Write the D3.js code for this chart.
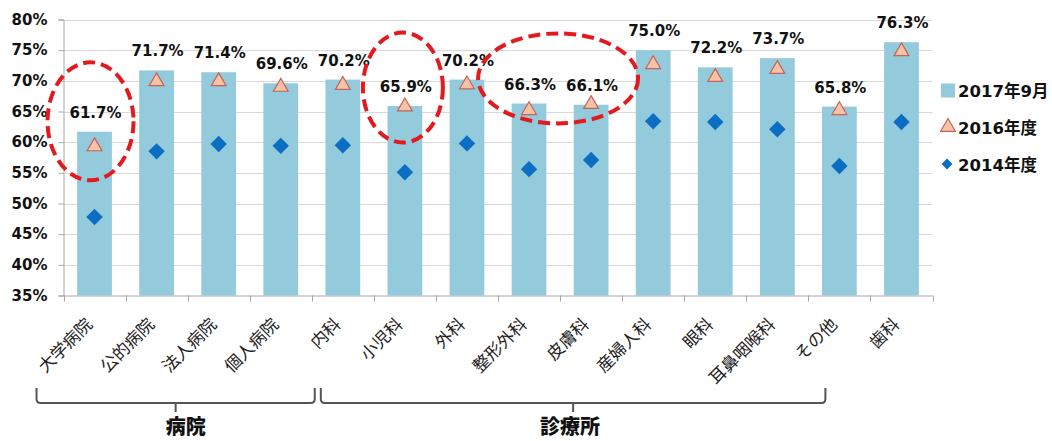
<!DOCTYPE html>
<html>
<head>
<meta charset="utf-8">
<script src="https://cdn.jsdelivr.net/npm/d3@7"></script>
<style>
  html, body { margin: 0; padding: 0; background: #fff; }
  svg { display: block; }
</style>
</head>
<body>
<svg id="chart" width="1052" height="441"></svg>
<script>
// 常勤医師の割合（カテゴリ別）
const categories = ["大学病院", "公的病院", "法人病院", "個人病院", "内科", "小児科", "外科",
  "整形外科", "皮膚科", "産婦人科", "眼科", "耳鼻咽喉科", "その他", "歯科"];
const rate2017 = [61.7, 71.7, 71.4, 69.6, 70.2, 65.9, 70.2, 66.3, 66.1, 75.0, 72.2, 73.7, 65.8, 76.3];
const rate2016 = [59.3, 69.9, 69.9, 69.0, 69.3, 65.8, 69.4, 65.2, 66.2, 72.7, 70.6, 71.9, 65.2, 74.8];
const rate2014 = [47.8, 58.5, 59.7, 59.4, 59.5, 55.1, 59.8, 55.6, 57.1, 63.4, 63.3, 62.1, 56.1, 63.3];
const yTicks = [35, 40, 45, 50, 55, 60, 65, 70, 75, 80];
const seriesNames = ["2017年9月", "2016年度", "2014年度"];
const groupNames = ["病院", "診療所"];
const groupFirst = ["大学病院", "内科"];
const groupLast = ["個人病院", "その他"];
const circled = [["大学病院"], ["小児科"], ["整形外科", "皮膚科"]];

const BAR = "#93cadc", TRI_FILL = "#f9c3a3", TRI_STROKE = "#c0645c", DIA = "#0b6ec2";
const NUM_FONT = "'DejaVu Sans', 'Noto Sans CJK JP', sans-serif";
const JP_FONT = "'Noto Sans CJK JP', 'Noto Sans', sans-serif";

const svg = d3.select("#chart");
const plotLeft = 63.5, plotRight = 932.5, plotTop = 19.5, plotBottom = 295.5;

const x = d3.scaleBand().domain(categories).range([plotLeft, plotRight]).paddingInner(0.44).paddingOuter(0.22);
const y = d3.scaleLinear().domain([35, 80]).range([plotBottom, plotTop]);
const cx = c => x(c) + x.bandwidth() / 2;
const step = x.step();

// horizontal gridlines
svg.append("g").selectAll("line").data(yTicks.slice(1)).join("line")
  .attr("x1", plotLeft).attr("x2", plotRight)
  .attr("y1", d => Math.round(y(d)) + 0.5).attr("y2", d => Math.round(y(d)) + 0.5)
  .attr("stroke", "#d9d9d9").attr("stroke-width", 1);

// y axis
const yAxis = svg.append("g").attr("transform", `translate(${plotLeft},0)`)
  .call(d3.axisLeft(y).tickValues(yTicks).tickFormat(d => d + "%").tickSize(5).tickPadding(11));
yAxis.select(".domain").attr("stroke", "#a6a6a6");
yAxis.selectAll(".tick line").attr("stroke", "#a6a6a6");
yAxis.selectAll(".tick text").attr("font-family", NUM_FONT).attr("font-weight", "bold")
  .attr("font-size", 15).attr("fill", "#111");

// x axis line with ticks at band boundaries
const boundaries = categories.map(c => x(c) - (step - x.bandwidth()) / 2).concat([plotRight]);
svg.append("line").attr("x1", plotLeft).attr("x2", plotRight).attr("y1", plotBottom + 0.5).attr("y2", plotBottom + 0.5)
  .attr("stroke", "#a6a6a6");
svg.append("g").selectAll("line").data(boundaries).join("line")
  .attr("x1", d => Math.round(d) + 0.5).attr("x2", d => Math.round(d) + 0.5)
  .attr("y1", plotBottom).attr("y2", plotBottom + 6).attr("stroke", "#a6a6a6");

// bars (2017年9月)
svg.append("g").selectAll("rect").data(categories).join("rect")
  .attr("x", d => x(d)).attr("width", x.bandwidth())
  .attr("y", (d, i) => y(rate2017[i])).attr("height", (d, i) => plotBottom - y(rate2017[i]))
  .attr("fill", BAR);

// triangles (2016年度)
const tri = d3.symbol().type(d3.symbolTriangle).size(95);
svg.append("g").selectAll("path").data(categories).join("path")
  .attr("d", tri)
  .attr("transform", (d, i) => `translate(${cx(d)},${y(rate2016[i])})`)
  .attr("fill", TRI_FILL).attr("stroke", TRI_STROKE).attr("stroke-width", 1.2);

// diamonds (2014年度)
const dia = d3.symbol().type(d3.symbolSquare).size(135);
svg.append("g").selectAll("path").data(categories).join("path")
  .attr("d", dia)
  .attr("transform", (d, i) => `translate(${cx(d)},${y(rate2014[i])}) rotate(45)`)
  .attr("fill", DIA);

// value labels
svg.append("g").selectAll("text").data(categories).join("text")
  .attr("x", d => cx(d) + 1).attr("y", (d, i) => y(rate2017[i]) - 14)
  .attr("text-anchor", "middle")
  .attr("font-family", NUM_FONT).attr("font-weight", "bold").attr("font-size", 15).attr("fill", "#111")
  .text((d, i) => rate2017[i].toFixed(1) + "%");

// category labels, rotated
svg.append("g").selectAll("text").data(categories).join("text")
  .attr("transform", d => `translate(${cx(d) - 1},${plotBottom + 30}) rotate(-45)`)
  .attr("text-anchor", "end")
  .attr("font-family", JP_FONT).attr("font-size", 17).attr("fill", "#222")
  .text(d => d);

// group brackets
const bracketY = 403, bracketTop = 388;
groupNames.forEach((name, g) => {
  const x0 = cx(groupFirst[g]) - (g === 0 ? 58 : 22);
  const x1 = cx(groupLast[g]) + (g === 0 ? 34 : -14);
  const mid = (x0 + x1) / 2;
  const r = 4;
  svg.append("path")
    .attr("d", `M${x0},${bracketTop} L${x0},${bracketY - r} Q${x0},${bracketY} ${x0 + r},${bracketY}
      L${x1 - r},${bracketY} Q${x1},${bracketY} ${x1},${bracketY - r} L${x1},${bracketTop}
      M${mid},${bracketY} L${mid},${bracketY + 9}`)
    .attr("fill", "none").attr("stroke", "#555").attr("stroke-width", 2);
  svg.append("text").attr("x", mid + (g === 0 ? 10 : -3)).attr("y", 434)
    .attr("text-anchor", "middle")
    .attr("font-family", JP_FONT).attr("font-weight", 900).attr("font-size", 20).attr("fill", "#111")
    .text(name);
});

// dashed highlight ellipses
const ellipseShape = [
  { dx: -4, cyv: 63.4, rx: 43, ry: 59 },
  { dx: -2, cyv: 68.9, rx: 40, ry: 55 },
  { dx: -2, cyv: 70.4, rx: 80, ry: 45 }
];
circled.forEach((cats, k) => {
  const s = ellipseShape[k];
  const mx = d3.mean(cats, cx) + s.dx;
  svg.append("ellipse").attr("cx", mx).attr("cy", y(s.cyv)).attr("rx", s.rx).attr("ry", s.ry)
    .attr("fill", "none").attr("stroke", "#e3191d").attr("stroke-width", 4)
    .attr("stroke-dasharray", "12 6");
});

// legend
const legend = svg.append("g").attr("transform", "translate(941,0)");
const rowY = [90, 127, 164];
legend.append("rect").attr("x", 0).attr("y", rowY[0] - 6.5).attr("width", 14).attr("height", 14).attr("fill", BAR);
legend.append("path").attr("d", tri).attr("transform", `translate(7,${rowY[1]})`)
  .attr("fill", TRI_FILL).attr("stroke", TRI_STROKE).attr("stroke-width", 1.2);
legend.append("path").attr("d", d3.symbol().type(d3.symbolSquare).size(60))
  .attr("transform", `translate(6,${rowY[2]}) rotate(45)`).attr("fill", DIA);
legend.selectAll("text.l").data(seriesNames).join("text").attr("class", "l")
  .attr("x", 17).attr("y", (d, i) => rowY[i] + 6.5)
  .attr("font-family", NUM_FONT).attr("font-weight", "bold").attr("font-size", 16.5).attr("fill", "#111")
  .text(d => d);
</script>
</body>
</html>
